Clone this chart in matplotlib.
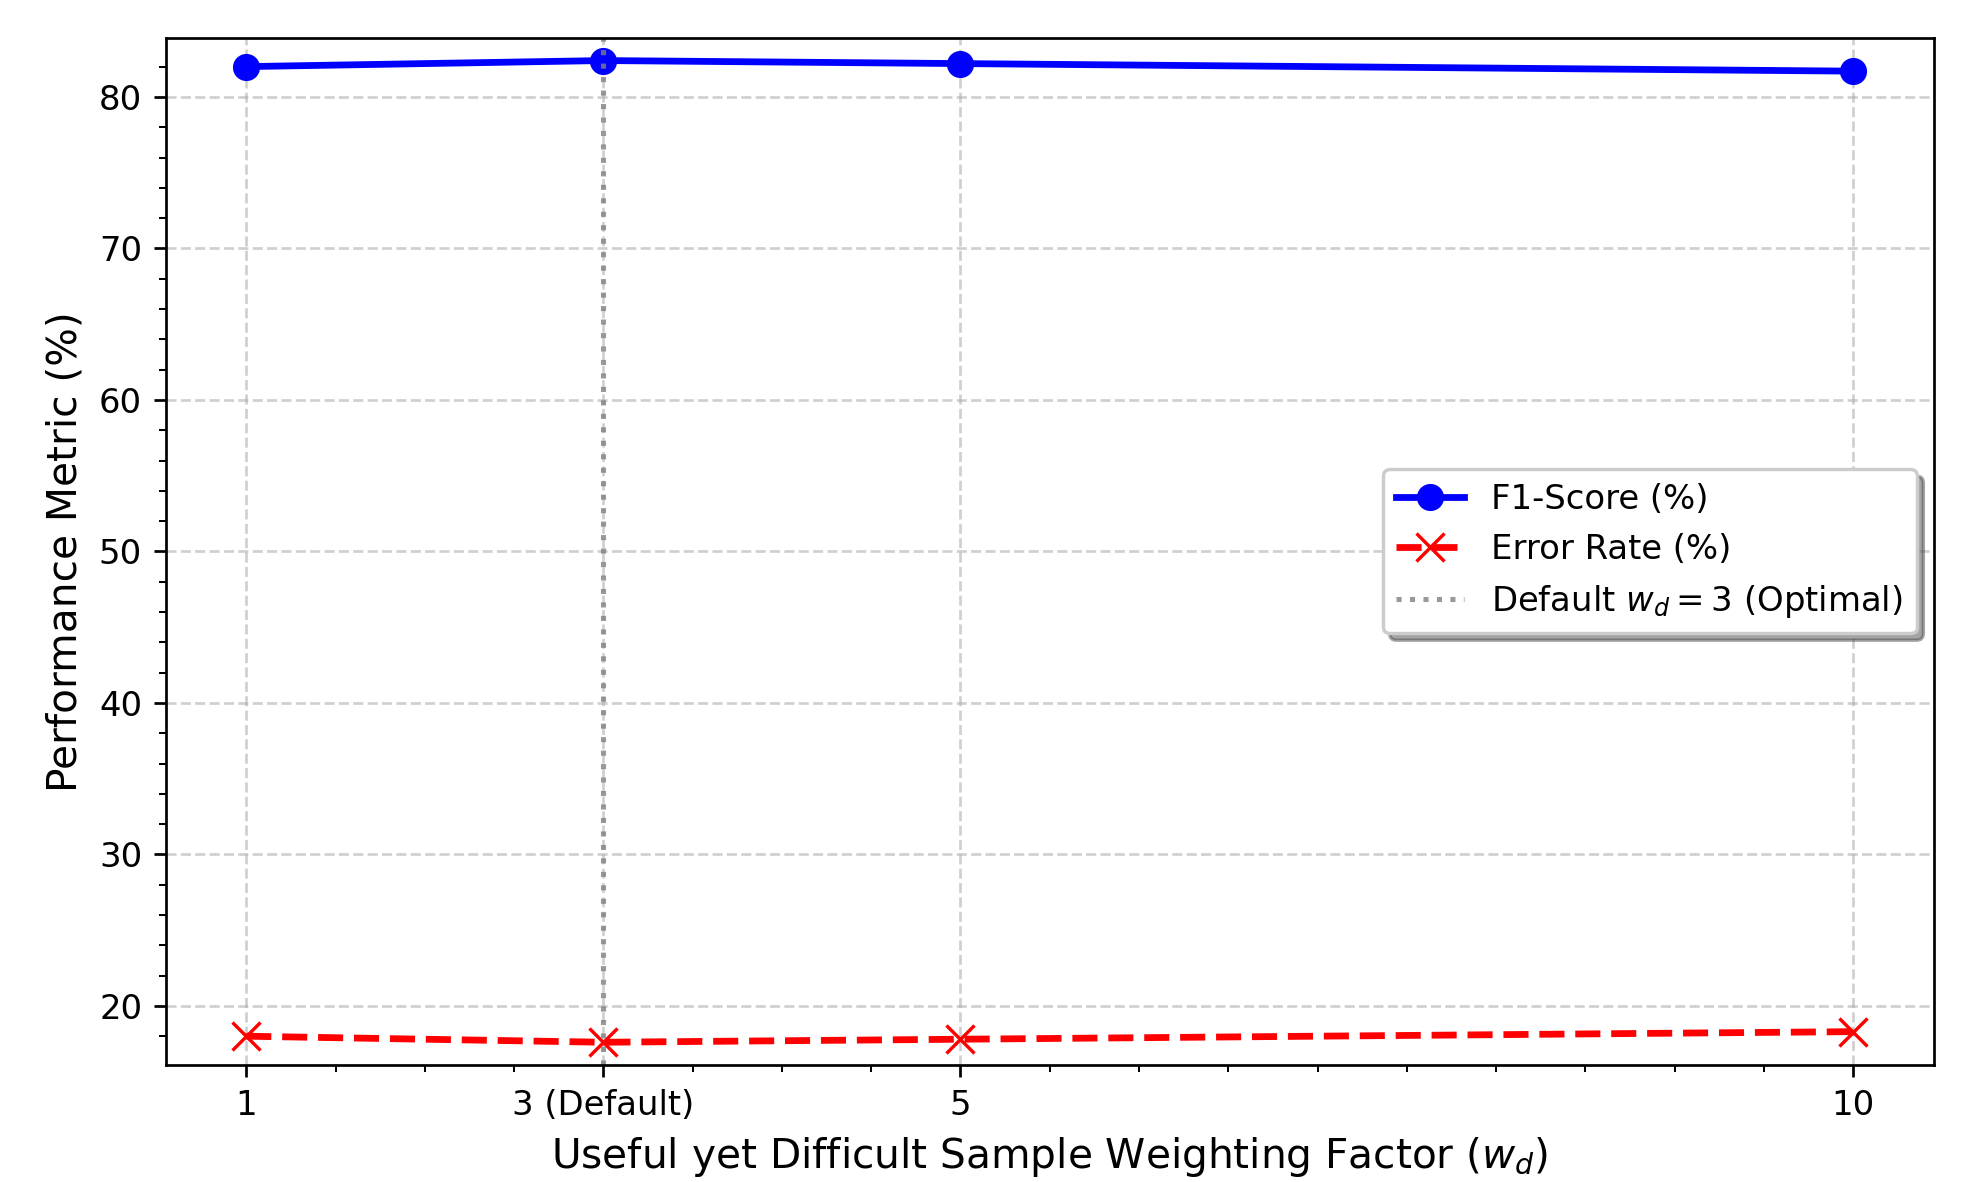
"""Sensitivity of F1 / error rate to the difficult-sample weighting factor."""

import matplotlib

matplotlib.use("Agg")

import matplotlib.pyplot as plt

weights = [1, 3, 5, 10]
tick_labels = ["1", "3 (Default)", "5", "10"]
f1_score = [82.0, 82.4, 82.2, 81.7]
error_rate = [18.0, 17.6, 17.8, 18.3]
default_weight = 3

DPI = 244


def main() -> None:
    fig, axis = plt.subplots(figsize=(1975 / DPI, 1182 / DPI), dpi=DPI)
    fig.subplots_adjust(left=0.084, right=0.979, top=0.968, bottom=0.099)

    axis.plot(weights, f1_score, color="blue", marker="o", markersize=7,
              linewidth=2, label="F1-Score (%)")
    axis.plot(weights, error_rate, color="red", marker="x", markersize=8,
              linestyle="--", linewidth=2, label="Error Rate (%)")
    axis.axvline(default_weight, color="gray", linestyle=":", linewidth=1.5,
                 alpha=0.8, label=r"Default $w_d = 3$ (Optimal)")

    axis.set_xticks(weights)
    axis.set_xticklabels(tick_labels)
    axis.minorticks_on()
    low = min(error_rate + f1_score)
    high = max(error_rate + f1_score)
    axis.set_ylim(low - 1.5, high + 1.5)

    axis.set_xlabel(r"Useful yet Difficult Sample Weighting Factor ($w_d$)", fontsize=12)
    axis.set_ylabel("Performance Metric (%)", fontsize=12)
    axis.tick_params(axis="both", which="major", labelsize=10)
    axis.grid(True, which="major", linestyle="--", alpha=0.6)
    axis.legend(loc="center right", fontsize=10, shadow=True)

    fig.savefig("out.png", dpi=DPI)
    plt.close(fig)


if __name__ == "__main__":
    main()
